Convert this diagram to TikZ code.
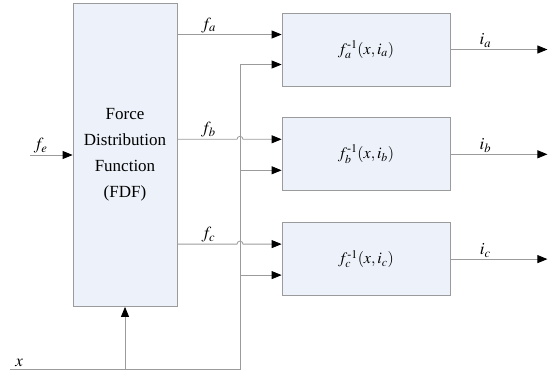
\documentclass[tikz,border=0pt]{standalone}
\usepackage{amsmath}
\usepackage{mathptmx}
\usepackage{fontspec}
\setmainfont{Liberation Serif}
\usetikzlibrary{positioning, arrows.meta, calc}
\definecolor{B}{RGB}{237,242,250}
\definecolor{L}{RGB}{155,155,155}
\tikzstyle{block} = [rectangle, draw=L, fill=B, line width=0.8pt, inner sep=0pt, align=center]
\tikzstyle{arrow} = [-{Triangle[length=10pt,width=8pt,color=black]}, draw=L, line width=0.8pt]
\tikzstyle{lbl} = [above, inner sep=1.5pt, font=\fontsize{17}{17}\selectfont]

\begin{document}
\begin{tikzpicture}[x=1pt, y=1pt]
    \useasboundingbox (0,0) rectangle (549,-372);

    \node[block, minimum width=104pt, minimum height=303pt,
          font=\fontsize{17}{26}\selectfont] (fdf) at (125,-155)
          {Force\\Distribution\\Function\\(FDF)};

    \node[block, minimum width=168pt, minimum height=73pt,
          font=\fontsize{16}{16}\selectfont] (boxa) at (366,-49.5) {$f_a^{\text{-}1}(x,i_a)$};
    \node[block, minimum width=168pt, minimum height=73pt,
          font=\fontsize{16}{16}\selectfont, below=31pt of boxa] (boxb) {$f_b^{\text{-}1}(x,i_b)$};
    \node[block, minimum width=168pt, minimum height=73pt,
          font=\fontsize{16}{16}\selectfont, below=31pt of boxb] (boxc) {$f_c^{\text{-}1}(x,i_c)$};

    % inputs of the three blocks
    \coordinate (ina1) at ($(boxa.west)+(0,15)$);
    \coordinate (ina2) at ($(boxa.west)+(0,-15)$);
    \coordinate (inb1) at ($(boxb.west)+(0,15)$);
    \coordinate (inb2) at ($(boxb.west)+(0,-16)$);
    \coordinate (inc1) at ($(boxc.west)+(0,15)$);
    \coordinate (inc2) at ($(boxc.west)+(0,-16)$);

    \coordinate (fein) at (30,-155);
    \coordinate (xin)  at (10,-369);
    \coordinate (bus)  at (240,-369);

    \coordinate (ia) at ($(boxa.east)+(97,0)$);
    \coordinate (ib) at ($(boxb.east)+(97,0)$);
    \coordinate (ic) at ($(boxc.east)+(97,0)$);

    \draw[arrow] (fein) -- node[lbl, pos=0.25]{$f_e$} (fdf.west);

    \draw[arrow] (fdf.east |- ina1) -- node[lbl, pos=0.3]{$f_a$} (ina1);
    \draw[arrow] (fdf.east |- inb1) -- node[lbl, pos=0.52]{$f_b$} ($(bus |- inb1)+(-3,0)$)
        arc[start angle=180, end angle=0, radius=3pt] -- (inb1);
    \draw[arrow] (fdf.east |- inc1) -- node[lbl, pos=0.52]{$f_c$} ($(bus |- inc1)+(-3,0)$)
        arc[start angle=180, end angle=0, radius=3pt] -- (inc1);

    \draw[arrow] (xin) -- node[lbl, pos=0.04]{$x$} (bus) -- (bus |- ina2) -- (ina2);
    \draw[arrow] (bus |- inb2) -- (inb2);
    \draw[arrow] (bus |- inc2) -- (inc2);
    \draw[arrow] (xin -| fdf.south) -- (fdf.south);

    \draw[arrow] (boxa.east) -- node[lbl, pos=0.36]{$i_a$} (ia);
    \draw[arrow] (boxb.east) -- node[lbl, pos=0.36]{$i_b$} (ib);
    \draw[arrow] (boxc.east) -- node[lbl, pos=0.36]{$i_c$} (ic);
\end{tikzpicture}
\end{document}
